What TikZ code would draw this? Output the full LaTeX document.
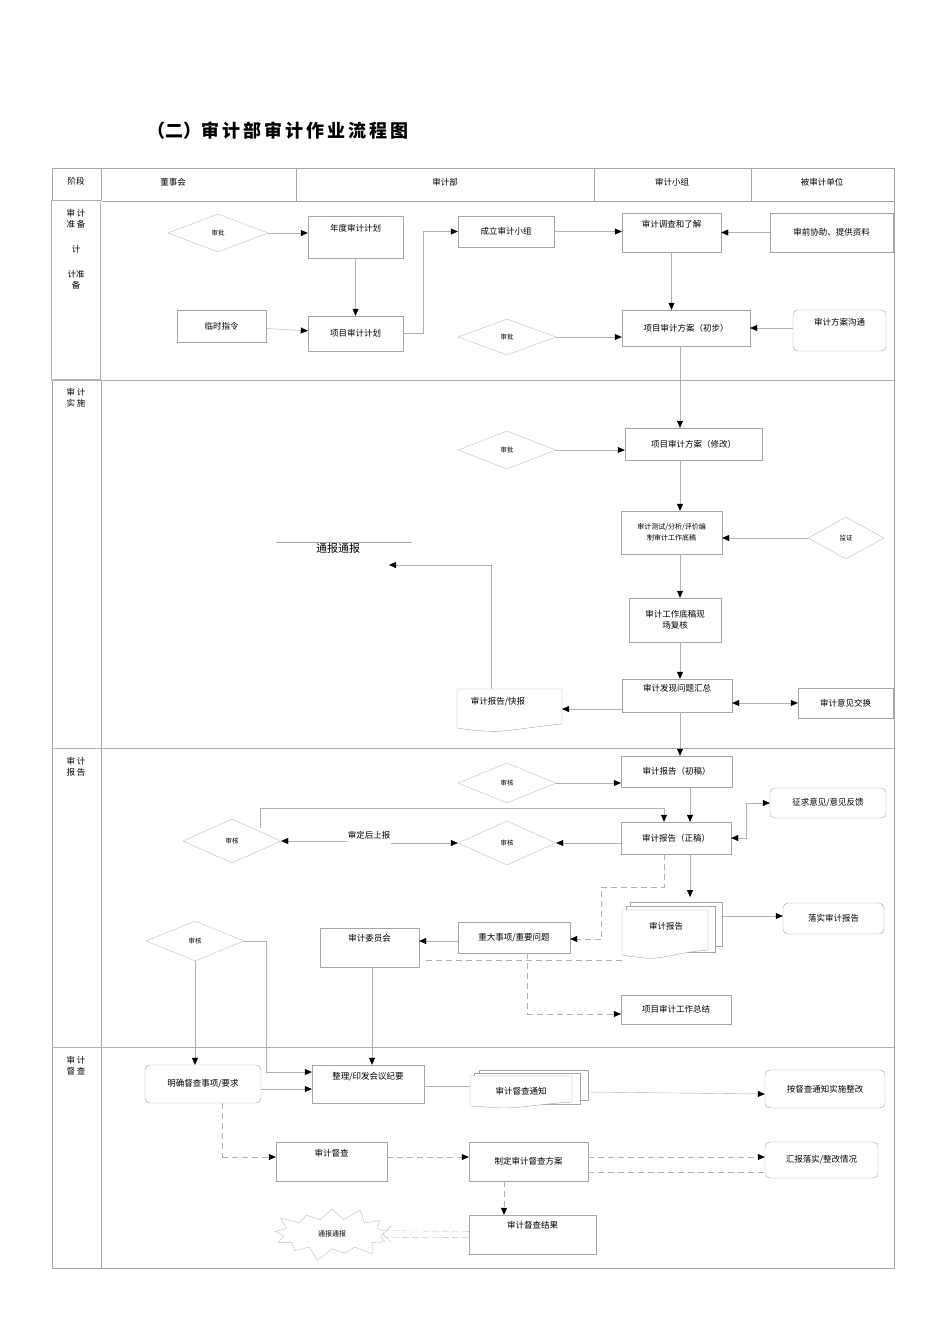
\documentclass[tikz,border=0pt]{standalone}
\usepackage{fontspec}
\setmainfont{Noto Sans CJK SC}
\usetikzlibrary{arrows.meta,shapes.geometric,shapes.symbols,calc}
\newcommand\mybox[7][box]{\node[#1,minimum width={(#5-#3)*1pt},minimum height={(#6-#4)*1pt}] (#2) at ({(#3+#5)/2},{(#4+#6)/2}) {#7};}
\begin{document}
\begin{tikzpicture}[x=1pt,y=-1pt,
  every node/.style={font=\fontsize{8.5}{11}\selectfont,inner sep=1pt},
  box/.style={draw=gray!70,thin,align=center},
  rbox/.style={box,rounded corners=5pt},
  dia/.style={draw=gray!50,diamond,aspect=2.6,inner sep=0pt,font=\fontsize{6.5}{7}\selectfont},
  ln/.style={draw=gray!60,thin},
  ar/.style={ln,-{Triangle[black,length=7pt,width=6pt]}},
  dar/.style={ar,dashed,dash pattern=on 6pt off 4pt},
  dln/.style={ln,dashed,dash pattern=on 6pt off 4pt}]
\useasboundingbox (0,0) rectangle (950,1344);
\node[font=\fontsize{18}{20}\selectfont\bfseries,anchor=west] (title) at (146,131) {（二）审\,计\,部\,审\,计\,作\,业\,流\,程\,图};
% table
\draw[gray!70] (52,168) rectangle (894,1268);
\draw[gray!70] (52,201) -- (894,201);
\foreach \x in {296,594,751} \draw[gray!70] (\x,168) -- (\x,201);
\draw[gray!70] (101,168) -- (101,1268);
\draw[gray!60,double] (52,201) rectangle (101,380);
\foreach \y in {380,748,1047} \draw[gray!60] (52,\y) -- (894,\y);
\node (h0) at (76,181) {阶段};
\node (h1) at (173,182) {董事会};
\node (h2) at (445,182) {审计部};
\node (h3) at (672,182) {审计小组};
\node (h4) at (822,182) {被审计单位};
\node[anchor=north,align=center] (p1) at (76,208) {审 计\\准 备\\[14pt]计\\[14pt]计准\\备};
\node[anchor=north,align=center] (p2) at (76,387) {审 计\\实 施};
\node[anchor=north,align=center] (p3) at (76,756) {审 计\\报 告};
\node[anchor=north,align=center] (p4) at (76,1055) {审 计\\督 查};
% preparation
\node[dia,minimum width=100pt,minimum height=38pt] (d1) at (218,233) {审批};
\mybox{nd}{308}{216}{403}{258}{年度审计计划\\[8pt]}
\mybox{ls}{177}{310}{266}{342}{临时指令}
\mybox{xm}{308}{316}{403}{351}{项目审计计划}
\mybox{cl}{458}{216}{554}{247}{成立审计小组}
\mybox{dc}{622}{213}{721}{252}{审计调查和了解\\[6pt]}
\mybox{sq}{770}{213}{893}{252}{审前协助、提供资料}
\node[dia,minimum width=98pt,minimum height=36pt] (d2) at (507,337) {审批};
\mybox{fa1}{622}{310}{750}{346}{项目审计方案（初步）}
\mybox[rbox]{gt}{793}{310}{886}{351}{审计方案沟通\\[6pt]}
\draw[ar] (d1.east) -- (nd.west|-d1.east);
\draw[ar] (nd) -- (xm);
\draw[ar] (ls) -- (xm);
\draw[ar] (xm.east) -- ++(20,0) |- (cl.west);
\draw[ar] (cl) -- (dc.west|-cl);
\draw[ar] (sq.west|-dc) -- (dc.east);
\draw[ar] (d2.east) -- (fa1.west|-d2.east);
\draw[ar] (gt.west|-fa1) -- (fa1.east);
\draw[ar] (dc) -- (dc|-fa1.north);
% implementation
\node[dia,minimum width=98pt,minimum height=38pt] (d3) at (507,450) {审批};
\mybox{fa2}{625}{428}{762}{460}{项目审计方案（修改）}
\mybox{cs}{621}{511}{722}{554}{\fontsize{7}{9}\selectfont 审计测试/分析/评价编\\\fontsize{7}{9}\selectfont 制审计工作底稿}
\node[dia,minimum width=76pt,minimum height=42pt] (d4) at (846,538) {监证};
\mybox{fh}{629}{598}{721}{642}{审计工作底稿现\\场复核}
\mybox{hz}{622}{679}{732}{712}{审计发现问题汇总\\[4pt]}
\mybox{yj}{798}{688}{893}{718}{审计意见交换}
\draw[gray!70] (457,689) -- (562,689) -- (562,724) .. controls (530,727) and (500,733) .. (487,731) .. controls (475,731) and (465,729) .. (457,728) -- cycle;
\node (kb) at (498,702) {审计报告/快报};
\coordinate (kbt) at (491,689);
\draw[gray!70] (276,542) -- (412,542);
\node[font=\fontsize{11}{12}\selectfont] (tb) at (338,548) {通报通报};
\coordinate (tbe) at (389,565);
\draw[ar] (kbt) |- (tbe);
\draw[ar] (fa1.south-|680,0) -- (fa2.north-|680,0);
\draw[ar] (d3.east) -- (fa2.west|-d3.east);
\draw[ar] (fa2.south-|680,0) -- (cs.north-|680,0);
\draw[ar] (d4.west) -- (cs.east|-d4.west);
\draw[ar] (cs.south-|680,0) -- (fh.north-|680,0);
\draw[ar] (fh.south-|680,0) -- (hz.north-|680,0);
\draw[{Triangle[black,length=7pt,width=6pt]}-{Triangle[black,length=7pt,width=6pt]},draw=gray!60] (hz.east|-yj) -- (yj.west);
\draw[ar] (hz.west|-0,709) -- (562,709);
% report
\mybox{cg}{621}{756}{732}{787}{审计报告（初稿）}
\draw[ar] (hz.south-|680,0) -- (cg.north-|680,0);
\node[dia,minimum width=98pt,minimum height=40pt] (d5) at (507,783) {审核};
\draw[ar] (d5.east) -- (cg.west|-d5.east);
\mybox[rbox]{zq}{770}{788}{886}{818}{征求意见/意见反馈}
\mybox{zg}{621}{822}{731}{854}{审计报告（正稿）}
\draw[ar] (cg.south-|690,0) -- (zg.north-|690,0);
\draw[{Triangle[black,length=7pt,width=6pt]}-{Triangle[black,length=7pt,width=6pt]},draw=gray!60] (zg.east|-0,838) -- (746,838) |- (zq.west);
\node[dia,minimum width=98pt,minimum height=44pt] (d6) at (232,841) {审核};
\node[dia,minimum width=98pt,minimum height=44pt] (d7) at (507,843) {审核};
\node (sd) at (369,835) {审定后上报};
\draw[ar] (sd.west|-d6.east) -- (d6.east);
\draw[ar] (sd.east|-d7.west) -- (d7.west);
\draw[ar] (zg.west|-d7.east) -- (d7.east);
\draw[ln] (260,828) -- (260,808) -- (664,808);
\draw[ar] (664,808) -- (zg.north-|664,0);
% multi doc 审计报告
\draw[gray!70,fill=white] (630,902) rectangle (722,946);
\draw[gray!70,fill=white] (626,906) rectangle (715,952);
\draw[gray!70,fill=white] (622,910) -- (708,910) -- (708,950) .. controls (680,952) and (660,960) .. (645,958) .. controls (635,957) and (628,956) .. (622,955) -- cycle;
\node (bg) at (666,926) {审计报告};
\draw[ar] (zg.south-|690,0) -- (690,897);
\mybox[rbox]{ls2}{783}{903}{884}{934}{落实审计报告}
\draw[ar] (723,916) -- (ls2.west|-0,916);
\mybox{zd}{458}{922}{570}{953}{重大事项/重要问题}
\mybox{wy}{320}{928}{419}{967}{审计委员会\\[8pt]}
\draw[dln] (664,854) -- (664,887) -- (601,887) -- (601,939);
\draw[dar] (601,939) -- (zd.east|-0,939);
\draw[ar] (zd.west|-0,941) -- (wy.east|-0,941);
\draw[dln] (426,960) -- (622,960);
\mybox{zj}{621}{995}{731}{1024}{项目审计工作总结}
\draw[dln] (527,953) -- (527,1014);
\draw[dar] (527,1014) -- (zj.west|-0,1014);
\node[dia,minimum width=98pt,minimum height=40pt] (d8) at (195,941) {审核};
% supervision
\mybox[rbox]{mq}{145}{1065}{261}{1103}{明确督查事项/要求}
\mybox{zl}{312}{1065}{424}{1103}{整理/印发会议纪要\\[6pt]}
\draw[ar] (d8.south) -- (mq.north-|d8.south);
\draw[ln] (d8.east) -- (266,941) -- (266,1072);
\draw[ar] (266,1072) -- (zl.west|-0,1072);
\draw[ar] (mq.east|-0,1089) -- (zl.west|-0,1089);
\draw[ar] (wy.south-|372,0) -- (zl.north-|372,0);
\draw[gray!70,fill=white] (479,1070) rectangle (588,1100);
\draw[gray!70,fill=white] (474,1073) rectangle (580,1104);
\draw[gray!70,fill=white] (470,1076) -- (572,1076) -- (572,1102) .. controls (540,1104) and (520,1108) .. (505,1108) .. controls (490,1108) and (480,1106) .. (470,1106) -- cycle;
\node (tz) at (521,1091) {审计督查通知};
\draw[ln] (zl.east|-0,1086) -- (470,1086);
\mybox[rbox]{az}{765}{1070}{885}{1108}{按督查通知实施整改}
\draw[ar] (588,1092) -- (az.west|-0,1094);
\mybox{dcz}{276}{1142}{387}{1181}{审计督查\\[6pt]}
\mybox{fa3}{469}{1142}{588}{1181}{制定审计督查方案}
\mybox[rbox]{hb}{765}{1142}{878}{1178}{汇报落实/整改情况}
\draw[dln] (mq.south-|222,0) -- (222,1157);
\draw[dar] (222,1157) -- (dcz.west|-0,1157);
\draw[dar] (dcz.east|-0,1157) -- (fa3.west|-0,1157);
\draw[dar] (fa3.east|-0,1157) -- (hb.west|-0,1157);
\draw[dln] (fa3.east|-0,1172) -- (hb.west|-0,1172);
\mybox{jg}{469}{1215}{596}{1254}{审计督查结果\\[8pt]}
\draw[dar] (fa3.south-|504,0) -- (jg.north-|504,0);
\node[starburst,draw=gray!50,minimum width=126pt,minimum height=58pt,starburst points=13,font=\fontsize{7}{8}\selectfont] (sb) at (332,1234) {通报通报};
\draw[dashed,gray!50,-{Straight Barb[length=8pt,width=16pt]},dash pattern=on 7pt off 3pt,double distance=6pt] (jg.west) -- (sb.east);
\end{tikzpicture}
\end{document}
